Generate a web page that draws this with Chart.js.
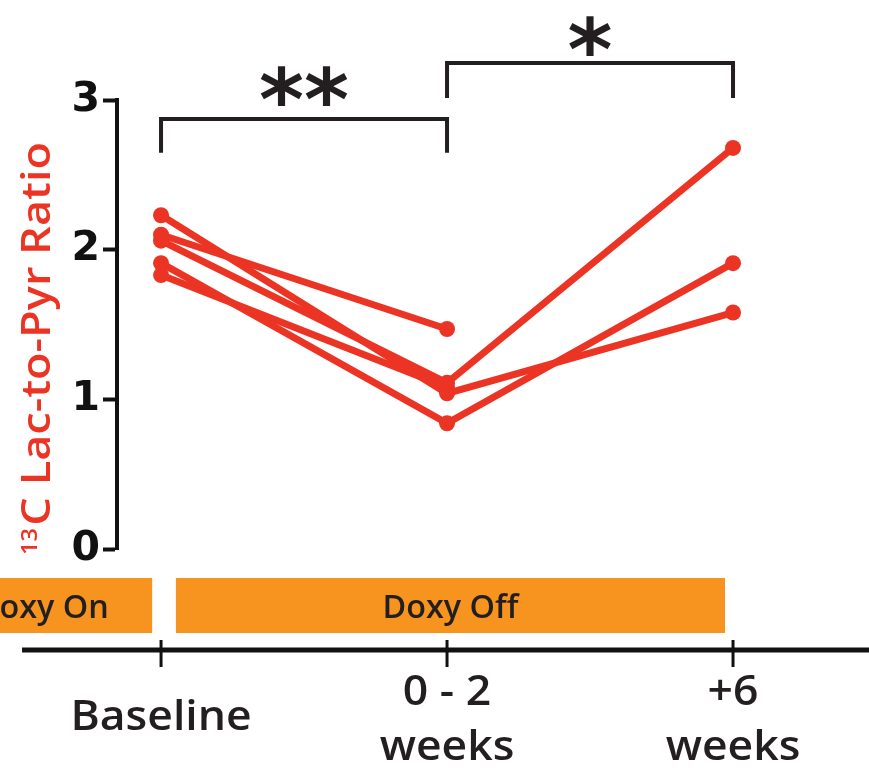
<!DOCTYPE html>
<html>
<head>
<meta charset="utf-8">
<script src="https://cdn.jsdelivr.net/npm/chart.js@4.4.0/dist/chart.umd.min.js"></script>
<style>
  html, body { margin: 0; padding: 0; background: #ffffff; }
  #wrap { width: 869px; height: 777px; }
</style>
</head>
<body>
<div id="wrap"><canvas id="c" width="869" height="777"></canvas></div>
<script>
// ---------------- data ----------------
const timepoints = ['Baseline', ['0 - 2', 'weeks'], ['+6', 'weeks']];
const yTicks = [0, 1, 2, 3];
const subjectA = [2.23, 1.04, 1.58];
const subjectB = [2.10, 1.47, null];
const subjectC = [2.06, 1.11, 2.68];
const subjectD = [1.91, 0.84, 1.91];
const subjectE = [1.83, 1.08, null];
const phases = ['Doxy On', 'Doxy Off'];
const significance = ['**', '*'];
const yTitleSup = '13';
const yTitleMain = 'C Lac-to-Pyr Ratio';

// ---------------- styles ----------------
const RED = '#ec3424';
const INK = '#231f20';
const ORANGE = '#f6941f';
const X_STRETCH = 1.06;

const toPoints = arr => arr.map((v, i) => ({ x: i, y: v }));
const series = [subjectA, subjectB, subjectC, subjectD, subjectE];

// phase bar spans along the time axis (x units) and bracket heights (y units)
const phaseSpans = [[-0.80, -0.031], [0.052, 1.972]];
const brackets = [
  { from: 0, to: 1, top: 2.873, foot: 2.647 },
  { from: 1, to: 2, top: 3.247, foot: 3.013 }
];

function stretchedText(ctx, text, x, y, sx) {
  ctx.save();
  ctx.translate(x, y);
  ctx.scale(sx, 1);
  ctx.fillText(text, 0, 0);
  ctx.restore();
}

const decor = {
  id: 'decor',
  afterDraw(chart) {
    const { ctx, chartArea: ca, scales: { x, y } } = chart;
    const px = v => x.getPixelForValue(v);
    const py = v => y.getPixelForValue(v);
    ctx.save();

    // ---- y axis title (rotated, with superscript) ----
    ctx.save();
    ctx.translate(50, (ca.top + ca.bottom) / 2 + 24);
    ctx.rotate(-Math.PI / 2);
    ctx.fillStyle = RED;
    ctx.textBaseline = 'alphabetic';
    ctx.textAlign = 'left';
    ctx.font = '600 40px "Open Sans"';
    const wMain = ctx.measureText(yTitleMain).width;
    ctx.font = '600 21px "Open Sans"';
    const wSup = ctx.measureText(yTitleSup).width + 2;
    const total = wSup + wMain;
    const s = 413 / total;
    ctx.scale(s, 1);
    ctx.fillText(yTitleSup, -total / 2, -13);
    ctx.font = '600 40px "Open Sans"';
    ctx.fillText(yTitleMain, -total / 2 + wSup, 0);
    ctx.restore();

    // ---- significance brackets ----
    ctx.strokeStyle = INK;
    ctx.lineWidth = 4;
    ctx.lineJoin = 'miter';
    ctx.lineCap = 'butt';
    brackets.forEach((b, i) => {
      const x1 = px(b.from), x2 = px(b.to), yt = py(b.top), yf = py(b.foot);
      ctx.beginPath();
      ctx.moveTo(x1, yf);
      ctx.lineTo(x1, yt);
      ctx.lineTo(x2, yt);
      ctx.lineTo(x2, yf);
      ctx.stroke();
      ctx.fillStyle = INK;
      ctx.font = 'bold 86px "DejaVu Sans"';
      ctx.textAlign = 'center';
      ctx.textBaseline = 'alphabetic';
      const m = ctx.measureText(significance[i]);
      const targetCenter = yt - (i === 0 ? 33 : 27);
      const base = targetCenter - (m.actualBoundingBoxDescent - m.actualBoundingBoxAscent) / 2;
      ctx.fillText(significance[i], (x1 + x2) / 2, base);
    });

    // ---- phase bars ----
    const barTop = ca.bottom + 29, barBot = ca.bottom + 84;
    phases.forEach((label, i) => {
      const [a, b] = phaseSpans[i];
      const xa = px(a), xb = px(b);
      ctx.fillStyle = ORANGE;
      ctx.fillRect(xa, barTop, xb - xa, barBot - barTop);
      ctx.fillStyle = INK;
      ctx.font = '600 33px "Open Sans"';
      ctx.textAlign = 'center';
      ctx.textBaseline = 'alphabetic';
      stretchedText(ctx, label, (xa + xb) / 2, barTop + 40, 0.98);
    });

    // ---- time axis ----
    const axisY = ca.bottom + 101;
    ctx.strokeStyle = '#111111';
    ctx.lineWidth = 5;
    ctx.beginPath();
    ctx.moveTo(px(-0.486), axisY);
    ctx.lineTo(chart.width, axisY);
    ctx.stroke();
    ctx.lineWidth = 3;
    timepoints.forEach((lab, i) => {
      const tx = px(i);
      ctx.beginPath();
      ctx.moveTo(tx, axisY - 10);
      ctx.lineTo(tx, axisY + 17);
      ctx.stroke();
      ctx.fillStyle = INK;
      ctx.font = '600 42px "Open Sans"';
      ctx.textAlign = 'center';
      ctx.textBaseline = 'alphabetic';
      if (Array.isArray(lab)) {
        stretchedText(ctx, lab[0], tx, axisY + 55, X_STRETCH);
        stretchedText(ctx, lab[1], tx, axisY + 110, X_STRETCH);
      } else {
        stretchedText(ctx, lab, tx, axisY + 80, X_STRETCH);
      }
    });

    ctx.restore();
  }
};

new Chart(document.getElementById('c'), {
  type: 'line',
  data: {
    datasets: series.map(arr => ({
      data: toPoints(arr),
      borderColor: RED,
      backgroundColor: RED,
      borderWidth: 7,
      pointRadius: 8,
      pointBorderWidth: 0,
      pointBackgroundColor: RED,
      tension: 0,
      spanGaps: false,
      clip: false
    }))
  },
  options: {
    responsive: false,
    animation: false,
    devicePixelRatio: 1,
    layout: { padding: { top: 100, bottom: 228, left: 0, right: 9 } },
    plugins: { legend: { display: false }, tooltip: { enabled: false }, title: { display: false } },
    scales: {
      x: {
        type: 'linear',
        min: -0.154,
        max: 2.444,
        display: false
      },
      y: {
        type: 'linear',
        min: 0,
        max: 3,
        afterFit: s => { s.width = 117; },
        afterBuildTicks: s => { s.ticks = yTicks.map(v => ({ value: v })); },
        border: { display: true, color: '#111111', width: 4 },
        grid: {
          display: true,
          drawOnChartArea: false,
          drawTicks: true,
          tickLength: 14,
          tickWidth: 4,
          tickColor: '#111111'
        },
        ticks: {
          color: '#111111',
          padding: 3,
          font: { family: '"DejaVu Sans"', weight: 'bold', size: 41 }
        },
        title: { display: false }
      }
    }
  },
  plugins: [decor]
});
</script>
</body>
</html>
